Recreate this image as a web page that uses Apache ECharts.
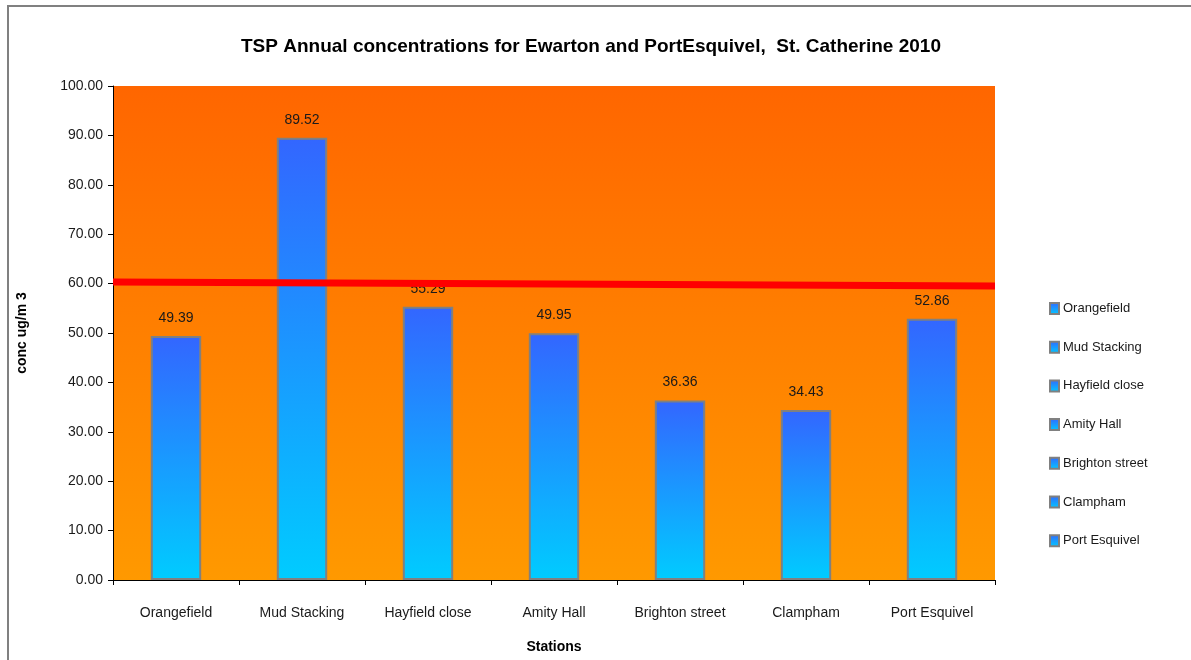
<!DOCTYPE html>
<html>
<head>
<meta charset="UTF-8">
<title>TSP Annual concentrations</title>
<style>
  html, body { margin: 0; padding: 0; background: #fff; }
  #frame { position: absolute; left: 7px; top: 5px; width: 1200px; height: 700px;
           border-left: 2px solid #808080; border-top: 2px solid #808080; }
  #main { position: absolute; left: 0; top: 0; width: 1191px; height: 660px; }
</style>
</head>
<body>
<div id="frame"></div>
<div id="main"></div>
<script src="https://cdn.jsdelivr.net/npm/echarts@6/dist/echarts.min.js"></script>
<script>
  // stations and annual TSP values
  var stations = ['Orangefield', 'Mud Stacking', 'Hayfield close', 'Amity Hall', 'Brighton street', 'Clampham', 'Port Esquivel'];
  var tspValues = [49.39, 89.52, 55.29, 49.95, 36.36, 34.43, 52.86];
  // standard line (drawn slightly sloped in the original)
  var limitLine = [[0, 60.3], [1, 59.5]];

  var font = "'Liberation Sans', Arial, sans-serif";

  var barColor = new echarts.graphic.LinearGradient(0, 0, 0, 1, [
    { offset: 0, color: '#3366ff' },
    { offset: 1, color: '#00ccff' }
  ]);

  // one series per station so the legend lists every station
  var seriesData = [];
  for (var i = 0; i < stations.length; i++) {
    var d = [];
    for (var j = 0; j < stations.length; j++) {
      d.push(j === i ? tspValues[i] : '-');
    }
    seriesData.push({
      name: stations[i],
      type: 'bar',
      stack: 'all',
      barWidth: '40%',
      data: d,
      itemStyle: {
        color: barColor,
        borderColor: '#808080',
        borderWidth: 2
      },
      label: {
        show: true,
        position: 'top',
        distance: 11,
        color: '#1a1a1a',
        fontFamily: font,
        fontSize: 14,
        formatter: function (p) { return p.value.toFixed(2); }
      }
    });
  }
  seriesData.push({
    name: 'limit',
    type: 'line',
    xAxisIndex: 1,
    data: limitLine,
    symbol: 'none',
    lineStyle: { color: '#ff0000', width: 7 },
    z: 5
  });

  var myChart = echarts.init(document.getElementById('main'));
  var option = {
    animation: false,
    title: {
      text: 'TSP Annual concentrations for Ewarton and PortEsquivel,  St. Catherine 2010',
      left: 586,
      textAlign: 'center',
      top: 32,
      textStyle: { fontFamily: font, fontWeight: 'bold', fontSize: 19, color: '#000' }
    },
    legend: {
      data: stations,
      orient: 'vertical',
      left: 1044,
      top: 297,
      icon: 'rect',
      itemWidth: 9,
      itemHeight: 11,
      itemGap: 25.7,
      textStyle: { fontFamily: font, fontSize: 13, color: '#1a1a1a', padding: [0, 0, 0, -1] }
    },
    grid: {
      left: 113,
      right: 196,
      top: 86,
      bottom: 80,
      show: true,
      borderWidth: 0,
      backgroundColor: new echarts.graphic.LinearGradient(0, 0, 0, 1, [
        { offset: 0, color: '#ff6600' },
        { offset: 1, color: '#ff9900' }
      ])
    },
    xAxis: [{
      type: 'category',
      data: stations,
      name: 'Stations',
      nameLocation: 'middle',
      nameGap: 60,
      nameTextStyle: { fontFamily: font, fontWeight: 'bold', fontSize: 14, color: '#000' },
      axisLine: { lineStyle: { color: '#000', width: 1 } },
      axisTick: { show: true, interval: 0, length: 5, lineStyle: { color: '#000' } },
      axisLabel: { interval: 0, fontFamily: font, fontSize: 14, color: '#1a1a1a', margin: 26 }
    }, {
      type: 'value',
      min: 0,
      max: 1,
      show: false
    }],
    yAxis: {
      type: 'value',
      min: 0,
      max: 100,
      interval: 10,
      name: 'conc ug/m 3',
      nameLocation: 'middle',
      nameGap: 84,
      nameRotate: 90,
      nameTextStyle: { fontFamily: font, fontWeight: 'bold', fontSize: 14, color: '#000' },
      axisLine: { show: true, lineStyle: { color: '#000', width: 1 } },
      axisTick: { show: true, length: 5, lineStyle: { color: '#000' } },
      splitLine: { show: false },
      axisLabel: {
        fontFamily: font, fontSize: 14, color: '#1a1a1a', margin: 10,
        formatter: function (v) { return v.toFixed(2); }
      }
    },
    series: seriesData
  };
  myChart.setOption(option);
</script>
</body>
</html>
